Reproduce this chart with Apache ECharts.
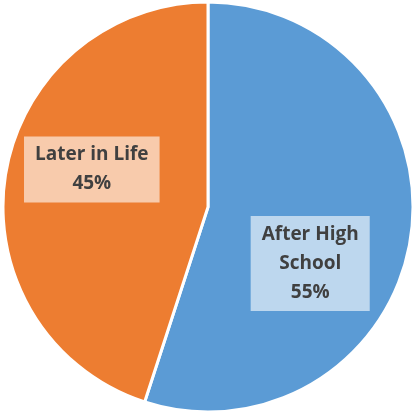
<!DOCTYPE html>
<html>
<head>
<meta charset="utf-8">
<script src="https://cdn.jsdelivr.net/npm/echarts@6/dist/echarts.min.js"></script>
<style>
  html, body { margin: 0; padding: 0; background: #fff; }
  #chart { width: 412px; height: 414px; }
</style>
</head>
<body>
<div id="chart"></div>
<script>
// data
const categories = ['After High\nSchool', 'Later in Life']
const values = [55, 45]
const colors = ['#5B9BD5', '#ED7D31']
// label nudges to match the original placement
const labelShift = [[-2, 40], [-12, -21]]

const chart = echarts.init(document.getElementById('chart'))
chart.setOption({
    animation: false,
    color: colors,
    series: [
        {
            type: 'pie',
            center: [208, 207],
            radius: 205,
            startAngle: 90,
            clockwise: true,
            itemStyle: {
                borderColor: '#fff',
                borderWidth: 3
            },
            label: {
                position: 'inside',
                formatter: p => p.name + '\n' + p.value + '%',
                fontFamily: 'Open Sans',
                fontWeight: 'bold',
                fontSize: 19,
                lineHeight: 29,
                color: '#404040',
                align: 'center',
                backgroundColor: 'rgba(255,255,255,0.6)',
                padding: [4, 11]
            },
            labelLine: { show: false },
            labelLayout: p => ({ dx: labelShift[p.dataIndex][0], dy: labelShift[p.dataIndex][1] }),
            data: categories.map((name, i) => ({ name: name, value: values[i] }))
        }
    ]
})
</script>
</body>
</html>
